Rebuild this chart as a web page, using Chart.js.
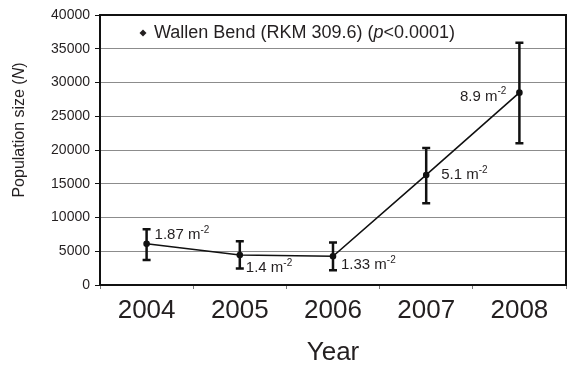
<!DOCTYPE html>
<html>
<head>
<meta charset="utf-8">
<script src="https://cdn.jsdelivr.net/npm/chart.js@4/dist/chart.umd.min.js"></script>
<style>
  html, body { margin: 0; padding: 0; background: #fff; }
  #wrap { width: 572px; height: 371px; }
</style>
</head>
<body>
<div id="wrap"><canvas id="c" width="572" height="371"></canvas></div>
<script>
// Wallen Bend population estimates with confidence limits
const years = ['2004', '2005', '2006', '2007', '2008'];
const populationN = [6100, 4450, 4250, 16300, 28500];
const ciLower = [3700, 2450, 2200, 12100, 21000];
const ciUpper = [8250, 6500, 6300, 20300, 35900];
const densityPerM2 = ['1.87', '1.4', '1.33', '5.1', '8.9'];

const FONT = '"Liberation Sans", Arial, Helvetica, sans-serif';
const INK = '#231f20';

// draw a sequence of text runs (mixed fonts / superscripts) left to right
function drawRuns(ctx, runs, x, y, align) {
  let total = 0;
  runs.forEach(r => { ctx.font = r.font; r.w = ctx.measureText(r.text).width; total += r.w; });
  let cx = align === 'right' ? x - total : (align === 'center' ? x - total / 2 : x);
  runs.forEach(r => {
    ctx.font = r.font;
    ctx.fillText(r.text, cx, y + (r.dy || 0));
    cx += r.w;
  });
}

function densityRuns(v) {
  return [
    { text: v + ' m', font: '15px ' + FONT },
    { text: '-2', font: '10px ' + FONT, dy: -5 }
  ];
}

const errorBars = {
  id: 'errorBars',
  afterDatasetsDraw(chart) {
    const { ctx, scales: { x, y } } = chart;
    ctx.save();
    ctx.strokeStyle = '#111';
    ctx.lineWidth = 2.5;
    years.forEach((yr, i) => {
      const px = x.getPixelForValue(i);
      const top = y.getPixelForValue(ciUpper[i]);
      const bot = y.getPixelForValue(ciLower[i]);
      ctx.beginPath();
      ctx.moveTo(px, top); ctx.lineTo(px, bot);
      ctx.moveTo(px - 4, top); ctx.lineTo(px + 4, top);
      ctx.moveTo(px - 4, bot); ctx.lineTo(px + 4, bot);
      ctx.stroke();
    });
    ctx.restore();
  }
};

// offsets of each density label from its point
const labelPlacement = [
  { dx: 8, dy: -9, align: 'left' },
  { dx: 6, dy: 13, align: 'left' },
  { dx: 8, dy: 9, align: 'left' },
  { dx: 15, dy: 0, align: 'left' },
  { dx: -13, dy: 4, align: 'right' }
];

const densityLabels = {
  id: 'densityLabels',
  afterDatasetsDraw(chart) {
    const { ctx, scales: { x, y } } = chart;
    ctx.save();
    ctx.fillStyle = INK;
    ctx.textBaseline = 'middle';
    ctx.textAlign = 'left';
    densityPerM2.forEach((d, i) => {
      const p = labelPlacement[i];
      const px = x.getPixelForValue(i) + p.dx;
      const py = y.getPixelForValue(populationN[i]) + p.dy;
      drawRuns(ctx, densityRuns(d), px, py, p.align);
    });
    ctx.restore();
  }
};

const frameAndText = {
  id: 'frameAndText',
  afterDraw(chart) {
    const { ctx, chartArea: a } = chart;
    ctx.save();
    // plot frame
    ctx.strokeStyle = '#111';
    ctx.lineWidth = 2;
    ctx.strokeRect(a.left, a.top, a.right - a.left, a.bottom - a.top);

    // series key
    ctx.fillStyle = INK;
    const kx = 143, ky = 33;
    ctx.beginPath();
    ctx.moveTo(kx, ky - 3.5); ctx.lineTo(kx + 3.5, ky);
    ctx.lineTo(kx, ky + 3.5); ctx.lineTo(kx - 3.5, ky);
    ctx.closePath(); ctx.fill();
    ctx.textBaseline = 'middle';
    ctx.textAlign = 'left';
    drawRuns(ctx, [
      { text: 'Wallen Bend (RKM 309.6) (', font: '18px ' + FONT },
      { text: 'p', font: 'italic 18px ' + FONT },
      { text: '<0.0001)', font: '18px ' + FONT }
    ], 154, ky, 'left');

    // y axis title
    ctx.translate(20, 130);
    ctx.rotate(-Math.PI / 2);
    drawRuns(ctx, [
      { text: 'Population size (', font: '16px ' + FONT },
      { text: 'N', font: 'italic 16px ' + FONT },
      { text: ')', font: '16px ' + FONT }
    ], 0, 0, 'center');
    ctx.restore();
  }
};

new Chart(document.getElementById('c'), {
  type: 'line',
  data: {
    labels: years,
    datasets: [{
      label: 'Wallen Bend (RKM 309.6)',
      data: populationN,
      borderColor: '#111',
      borderWidth: 1.6,
      pointRadius: 2.5,
      pointBackgroundColor: '#111',
      pointBorderColor: '#111',
      tension: 0,
      fill: false
    }]
  },
  options: {
    responsive: false,
    animation: false,
    devicePixelRatio: 1,
    layout: { padding: { top: 15, right: 6, left: 0, bottom: 0 } },
    plugins: { legend: { display: false }, tooltip: { enabled: false } },
    scales: {
      x: {
        type: 'category',
        offset: true,
        afterFit(s) { s.height = 86; },
        grid: { offset: true, drawOnChartArea: false, tickLength: 4, tickColor: '#777', lineWidth: 1 },
        border: { display: true, color: '#111', width: 2 },
        ticks: { color: INK, font: { family: FONT, size: 26 }, padding: 6 },
        title: { display: true, text: 'Year', color: INK, font: { family: FONT, size: 26 }, padding: { top: 2, bottom: 3 } }
      },
      y: {
        min: 0,
        max: 40000,
        afterFit(s) { s.width = 100; },
        ticks: {
          stepSize: 5000,
          color: INK,
          font: { family: FONT, size: 14 },
          padding: 5,
          callback: v => String(v)
        },
        grid: { color: '#8c8c8c', lineWidth: 1, tickLength: 5, tickColor: '#111' },
        border: { display: true, color: '#111', width: 2 }
      }
    }
  },
  plugins: [errorBars, densityLabels, frameAndText]
});
</script>
</body>
</html>
